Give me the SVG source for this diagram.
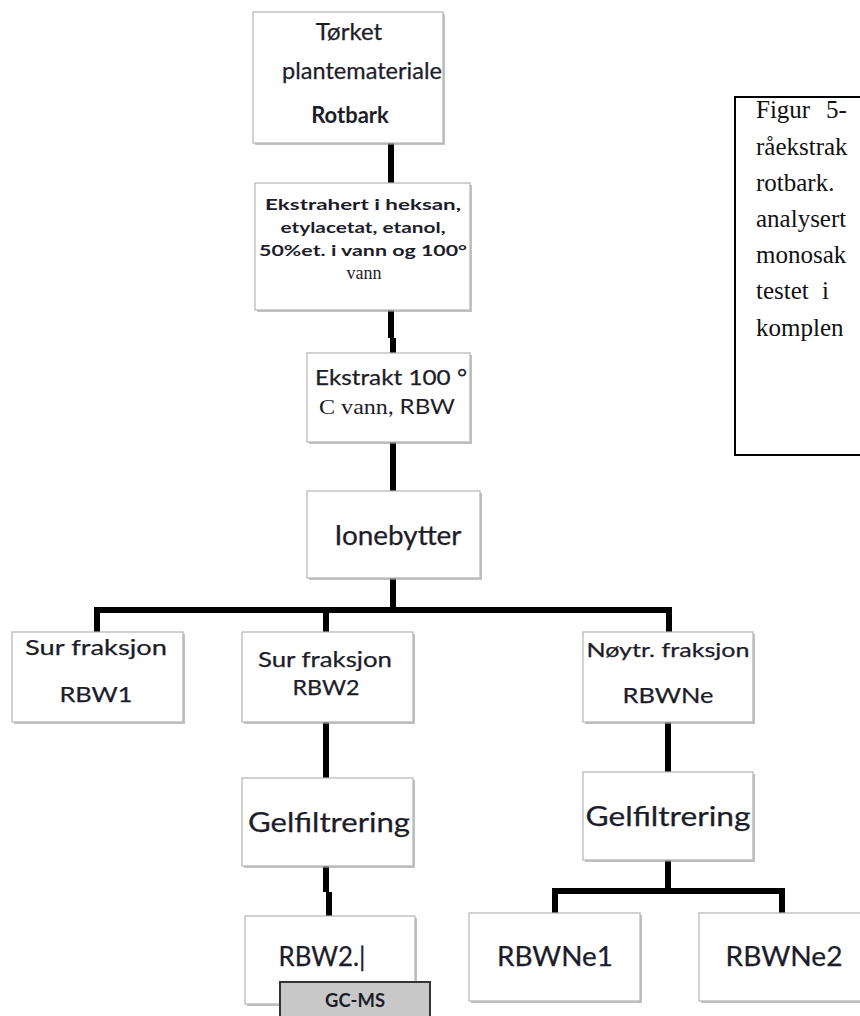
<svg xmlns="http://www.w3.org/2000/svg" width="860" height="1016" viewBox="0 0 860 1016">
<defs>
<style>
.box{fill:#fff;stroke:#b4b4b4;stroke-width:1.2}
.sh{fill:#9a9a9a;opacity:0.6}
.t{font-family:Lato,"Open Sans","Liberation Sans",sans-serif;fill:#1d1d2a;stroke:#1d1d2a;stroke-width:0.25;text-anchor:middle}
.b{font-family:Lato,"Open Sans","Liberation Sans",sans-serif;fill:#1d1d2a;font-weight:bold;text-anchor:middle}
.s{font-family:"Liberation Serif",serif;fill:#1d1d2a;text-anchor:middle}
.cap{font-family:"Liberation Serif","Times New Roman",serif;fill:#111;font-size:25px}
.ln{stroke:#000;stroke-width:6;fill:none;stroke-linejoin:miter}
</style>
</defs>
<rect width="860" height="1016" fill="#fff"/>

<g id="connectors">
<line class="ln" x1="391" y1="143" x2="391" y2="184"/>
<path class="ln" d="M391 310 V338 M393 338 V354"/>
<line class="ln" x1="393" y1="442" x2="393" y2="492"/>
<line class="ln" x1="393" y1="578" x2="393" y2="610"/>
<path class="ln" d="M97 633 V610 H669 V633"/>
<line class="ln" x1="326" y1="610" x2="326" y2="633"/>
<line class="ln" x1="326" y1="722" x2="326" y2="778"/>
<path class="ln" d="M326 866 V892 M329 892 V916"/>
<line class="ln" x1="668" y1="722" x2="668" y2="772"/>
<path class="ln" d="M555 913 V891 H782 V913"/>
<line class="ln" x1="668" y1="860" x2="668" y2="891"/>
</g>

<g id="n-torket">
<rect class="sh" x="255" y="14" width="190" height="131"/>
<rect class="box" x="253" y="12" width="190" height="131"/>
<text class="t" x="349" y="40" font-size="24">Tørket</text>
<text class="t" x="362" y="79" font-size="24" textLength="160" lengthAdjust="spacingAndGlyphs">plantemateriale</text>
<text class="b" x="350" y="123" font-size="22">Rotbark</text>
</g>

<g id="n-ekstrahert">
<rect class="sh" x="257" y="185" width="215" height="127"/>
<rect class="box" x="255" y="183" width="215" height="127"/>
<text class="b" x="363" y="210" font-size="16" textLength="196" lengthAdjust="spacingAndGlyphs">Ekstrahert i heksan,</text>
<text class="b" x="363" y="233" font-size="16" textLength="165" lengthAdjust="spacingAndGlyphs">etylacetat, etanol,</text>
<text class="b" x="363" y="256" font-size="16" textLength="208" lengthAdjust="spacingAndGlyphs">50%et. i vann og 100°</text>
<text class="s" x="364" y="279" font-size="18">vann</text>
</g>

<g id="n-ekstrakt">
<rect class="sh" x="309" y="355" width="163" height="89"/>
<rect class="box" x="307" y="353" width="163" height="89"/>
<text class="t" x="391" y="385" font-size="21" textLength="152" lengthAdjust="spacingAndGlyphs">Ekstrakt 100 °</text>
<text x="387" y="414" font-size="22" text-anchor="middle" fill="#1d1d2a" textLength="136" lengthAdjust="spacingAndGlyphs"><tspan font-family="Liberation Serif,serif">C vann</tspan><tspan font-family="Lato,sans-serif">, RBW</tspan></text>
</g>

<g id="n-ionebytter">
<rect class="sh" x="309" y="493" width="173" height="87"/>
<rect class="box" x="307" y="491" width="173" height="87"/>
<text class="t" x="398" y="545" font-size="26" textLength="127" lengthAdjust="spacingAndGlyphs">Ionebytter</text>
</g>

<g id="n-rbw1">
<rect class="sh" x="14" y="634" width="171" height="90"/>
<rect class="box" x="12" y="632" width="171" height="90"/>
<text class="t" x="96" y="655" font-size="22" textLength="142" lengthAdjust="spacingAndGlyphs">Sur fraksjon</text>
<text class="t" x="96" y="702" font-size="22" textLength="73" lengthAdjust="spacingAndGlyphs">RBW1</text>
</g>

<g id="n-rbw2">
<rect class="sh" x="244" y="634" width="171" height="90"/>
<rect class="box" x="242" y="632" width="171" height="90"/>
<text class="t" x="325" y="667" font-size="21" textLength="134" lengthAdjust="spacingAndGlyphs">Sur fraksjon</text>
<text class="t" x="326" y="695" font-size="21" textLength="67" lengthAdjust="spacingAndGlyphs">RBW2</text>
</g>

<g id="n-noytr">
<rect class="sh" x="585" y="634" width="170" height="90"/>
<rect class="box" x="583" y="632" width="170" height="90"/>
<text class="t" x="668" y="657" font-size="20" textLength="163" lengthAdjust="spacingAndGlyphs">Nøytr. fraksjon</text>
<text class="t" x="668" y="703" font-size="22" textLength="91" lengthAdjust="spacingAndGlyphs">RBWNe</text>
</g>

<g id="n-gel1">
<rect class="sh" x="244" y="780" width="171" height="88"/>
<rect class="box" x="242" y="778" width="171" height="88"/>
<text class="t" x="329" y="832" font-size="26" textLength="162" lengthAdjust="spacingAndGlyphs">Gelfiltrering</text>
</g>

<g id="n-gel2">
<rect class="sh" x="585" y="774" width="170" height="88"/>
<rect class="box" x="583" y="772" width="170" height="88"/>
<text class="t" x="668" y="826" font-size="26" textLength="165" lengthAdjust="spacingAndGlyphs">Gelfiltrering</text>
</g>

<g id="n-rbw21">
<rect class="sh" x="247" y="918" width="170" height="88"/>
<rect class="box" x="245" y="916" width="170" height="88"/>
<text class="t" x="322" y="966" font-size="26" textLength="87" lengthAdjust="spacingAndGlyphs">RBW2.|</text>
</g>

<g id="n-gcms">
<rect x="280" y="982" width="150" height="40" fill="#c8c8c8" stroke="#333" stroke-width="2"/>
<text class="b" x="355" y="1007" font-size="18" textLength="60" lengthAdjust="spacingAndGlyphs">GC-MS</text>
</g>

<g id="n-rbwne1">
<rect class="sh" x="471" y="915" width="171" height="88"/>
<rect class="box" x="469" y="913" width="171" height="88"/>
<text class="t" x="555" y="966" font-size="26" textLength="116" lengthAdjust="spacingAndGlyphs">RBWNe1</text>
</g>

<g id="n-rbwne2">
<rect class="sh" x="701" y="915" width="171" height="88"/>
<rect class="box" x="699" y="913" width="171" height="88"/>
<text class="t" x="784" y="966" font-size="26" textLength="117" lengthAdjust="spacingAndGlyphs">RBWNe2</text>
</g>

<g id="caption">
<rect x="735" y="97" width="140" height="358" fill="#fff" stroke="#000" stroke-width="2"/>
<text class="cap" x="756" y="118">Figur<tspan x="826">5-</tspan></text>
<text class="cap" x="756" y="155">råekstrak</text>
<text class="cap" x="756" y="191">rotbark.</text>
<text class="cap" x="756" y="227">analysert</text>
<text class="cap" x="756" y="263">monosak</text>
<text class="cap" x="756" y="299">testet<tspan x="822">i</tspan></text>
<text class="cap" x="756" y="336">komplen</text>
</g>
</svg>
